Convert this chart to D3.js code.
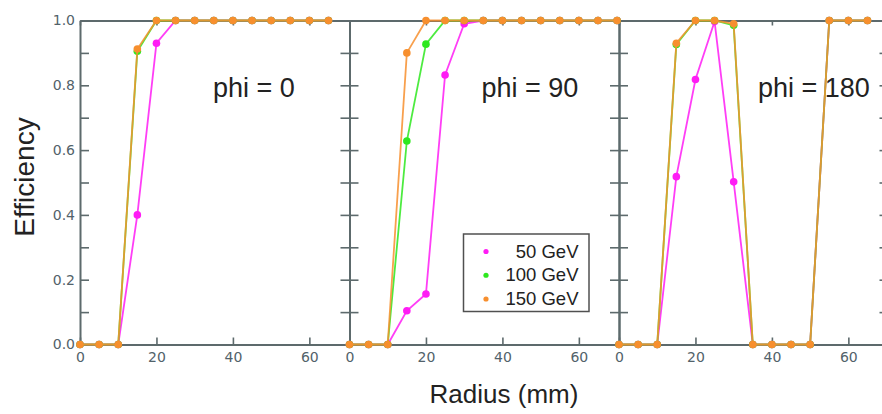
<!DOCTYPE html>
<html>
<head>
<meta charset="utf-8">
<script src="https://cdn.jsdelivr.net/npm/d3@7"></script>
<style>
  html, body { margin: 0; padding: 0; background: #fff; }
  svg { display: block; }
</style>
</head>
<body>
<svg id="chart" width="882" height="414"></svg>
<script>
// ---- data ----
const radius = [0, 5, 10, 15, 20, 25, 30, 35, 40, 45, 50, 55, 60, 65, 70];
const seriesNames = ["50 GeV", "100 GeV", "150 GeV"];
const seriesColors = ["#ff1cf5", "#2ee81f", "#f78f2e"];
const panelTitles = ["phi = 0", "phi = 90", "phi = 180"];

const phi0_50  = [0, 0, 0, 0.40, 0.93, 1, 1, 1, 1, 1, 1, 1, 1, 1];
const phi0_100 = [0, 0, 0, 0.905, 1, 1, 1, 1, 1, 1, 1, 1, 1, 1];
const phi0_150 = [0, 0, 0, 0.912, 1, 1, 1, 1, 1, 1, 1, 1, 1, 1];

const phi90_50  = [0, 0, 0, 0.104, 0.156, 0.832, 0.99, 1, 1, 1, 1, 1, 1, 1, 1];
const phi90_100 = [0, 0, 0, 0.628, 0.927, 1, 1, 1, 1, 1, 1, 1, 1, 1, 1];
const phi90_150 = [0, 0, 0, 0.90, 1, 1, 1, 1, 1, 1, 1, 1, 1, 1, 1];

const phi180_50  = [0, 0, 0, 0.518, 0.818, 0.997, 0.502, 0, 0, 0, 0, 1, 1, 1];
const phi180_100 = [0, 0, 0, 0.926, 1, 1, 0.985, 0, 0, 0, 0, 1, 1, 1];
const phi180_150 = [0, 0, 0, 0.93, 1, 1, 0.99, 0, 0, 0, 0, 1, 1, 1];

const panelsData = [
  [phi0_50, phi0_100, phi0_150],
  [phi90_50, phi90_100, phi90_150],
  [phi180_50, phi180_100, phi180_150]
];

const xTicks = [0, 20, 40, 60];
const yTicksAll = [0, 0.1, 0.2, 0.3, 0.4, 0.5, 0.6, 0.7, 0.8, 0.9, 1.0];
const yMajor = [0, 0.2, 0.4, 0.6, 0.8, 1.0];

// ---- layout ----
const svg = d3.select("#chart");
const panelLefts = [80, 349.5, 619];
const panelW = 269.5;
const yTop = 20.5, yBottom = 344.5;
const axisColor = "#5d6a6c";
const labelColor = "#52626a";

const y = d3.scaleLinear().domain([0, 1]).range([yBottom, yTop]);

function styleAxis(g) {
  g.attr("font-size", null).attr("font-family", null);
  g.select(".domain").attr("stroke", axisColor).attr("stroke-width", 2);
  g.selectAll(".tick line").attr("stroke", axisColor).attr("stroke-width", 1.6);
  g.selectAll(".tick text")
    .attr("fill", labelColor)
    .style("font-family", "'DejaVu Sans', sans-serif")
    .style("font-size", "14px");
}

panelLefts.forEach((left, p) => {
  const x = d3.scaleLinear().domain([0, 70.5]).range([left, left + panelW]);

  svg.append("g")
    .attr("transform", `translate(0,${yBottom})`)
    .call(d3.axisBottom(x).tickValues(xTicks).tickFormat(d3.format("d"))
      .tickSizeInner(-7).tickSizeOuter(0).tickPadding(8))
    .call(styleAxis);

  svg.append("g")
    .attr("transform", `translate(0,${yTop})`)
    .call(d3.axisTop(x).tickValues(xTicks).tickFormat(() => "")
      .tickSizeInner(-5).tickSizeOuter(0))
    .call(styleAxis);

  svg.append("g")
    .attr("transform", `translate(${left},0)`)
    .call(d3.axisLeft(y).tickValues(yTicksAll)
      .tickFormat(d => (p === 0 && yMajor.some(m => Math.abs(m - d) < 1e-9)) ? d3.format(".1f")(d) : "")
      .tickSizeInner(-9).tickSizeOuter(0).tickPadding(5))
    .call(styleAxis);

  svg.append("g")
    .attr("transform", `translate(${left + panelW},0)`)
    .call(d3.axisRight(y).tickValues(yTicksAll).tickFormat(() => "")
      .tickSizeInner(-9).tickSizeOuter(0))
    .call(styleAxis);
});

panelLefts.forEach((left, p) => {
  const x = d3.scaleLinear().domain([0, 70.5]).range([left, left + panelW]);
  panelsData[p].forEach((vals, s) => {
    const pts = vals.map((v, i) => [radius[i], v]);
    const line = d3.line().x(d => x(d[0])).y(d => y(d[1]));
    svg.append("path")
      .datum(pts)
      .attr("d", line)
      .attr("fill", "none")
      .attr("stroke", seriesColors[s])
      .attr("stroke-width", 1.8)
      .attr("stroke-opacity", 0.85);
    svg.append("g").selectAll("circle")
      .data(pts)
      .join("circle")
      .attr("cx", d => x(d[0]))
      .attr("cy", d => y(d[1]))
      .attr("r", 3.8)
      .attr("fill", seriesColors[s]);
  });
});

const titleX = [213, 481.5, 758];
panelTitles.forEach((t, p) => {
  svg.append("text")
    .attr("x", titleX[p])
    .attr("y", 97)
    .attr("fill", "#222")
    .style("font-family", "'Liberation Sans', Arial, sans-serif")
    .style("font-size", "27px")
    .text(t);
});

svg.append("text")
  .attr("x", 504).attr("y", 403)
  .attr("text-anchor", "middle")
  .attr("fill", "#222")
  .style("font-family", "'Liberation Sans', Arial, sans-serif")
  .style("font-size", "26px")
  .text("Radius (mm)");

svg.append("text")
  .attr("transform", "translate(34,177) rotate(-90)")
  .attr("text-anchor", "middle")
  .attr("fill", "#222")
  .style("font-family", "'Liberation Sans', Arial, sans-serif")
  .style("font-size", "28px")
  .text("Efficiency");

const lg = svg.append("g");
lg.append("rect")
  .attr("x", 463.5).attr("y", 234).attr("width", 125.5).attr("height", 77.5)
  .attr("fill", "#fff").attr("stroke", "#505050").attr("stroke-width", 1.5);
const legendRowY = d3.scalePoint().domain(seriesNames).range([251.5, 299]);
seriesNames.forEach((name, s) => {
  lg.append("circle")
    .attr("cx", 486).attr("cy", legendRowY(name)).attr("r", 2.6)
    .attr("fill", seriesColors[s]);
  lg.append("text")
    .attr("x", 578.5).attr("y", legendRowY(name) + 6)
    .attr("text-anchor", "end")
    .attr("fill", "#222")
    .style("font-family", "'Liberation Sans', Arial, sans-serif")
    .style("font-size", "18.5px")
    .text(name);
});
</script>
</body>
</html>
